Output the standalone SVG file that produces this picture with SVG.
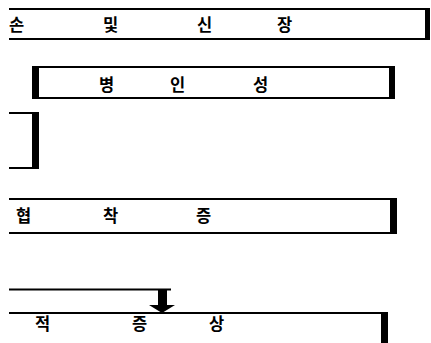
<svg xmlns="http://www.w3.org/2000/svg" width="431" height="343" viewBox="0 0 431 343">
<style>
.box{fill:#fff;stroke:#000;stroke-width:2}
.edge{fill:none;stroke:#000;stroke-width:2}
.bar{fill:#000}
.t{font-family:"Noto Sans CJK KR","Noto Sans",sans-serif;font-weight:bold;font-size:16.5px;fill:#000}
</style>
<rect width="431" height="343" fill="#fff"/>
<g id="node1">
<path class="edge" d="M9,9 H426 M9,39 H426"/>
<rect class="bar" x="425" y="8" width="5" height="32"/>
<text class="t" x="9" y="31">손</text>
<text class="t" x="103" y="31">및</text>
<text class="t" x="197" y="31">신</text>
<text class="t" x="277" y="31">장</text>
</g>
<g id="node2">
<rect class="box" x="35" y="67" width="357" height="31"/>
<rect class="bar" x="32" y="66" width="7" height="33"/>
<rect class="bar" x="389" y="66" width="6" height="33"/>
<text class="t" x="99" y="91">병</text>
<text class="t" x="170" y="91">인</text>
<text class="t" x="253" y="91">성</text>
</g>
<g id="node3">
<path class="edge" d="M9,113 H35 M9,168 H35"/>
<rect class="bar" x="32" y="112" width="7" height="57"/>
</g>
<g id="node4">
<path class="edge" d="M9,199 H392 M9,233 H392"/>
<rect class="bar" x="390" y="198" width="7" height="36"/>
<text class="t" x="16" y="222">협</text>
<text class="t" x="103" y="222">착</text>
<text class="t" x="196" y="222">증</text>
</g>
<g id="node5">
<path class="edge" d="M9,313 H384"/>
<rect class="bar" x="381" y="312" width="7" height="32"/>
<text class="t" x="35" y="330">적</text>
<text class="t" x="132" y="330">증</text>
<text class="t" x="209" y="330">상</text>
</g>
<g id="connectors">
<line x1="9" y1="289.5" x2="171" y2="289.5" stroke="#000" stroke-width="2"/>
<rect x="158" y="289" width="9" height="17" fill="#000"/>
<polygon points="149,305 175,305 162,313" fill="#000"/>
</g>
</svg>
